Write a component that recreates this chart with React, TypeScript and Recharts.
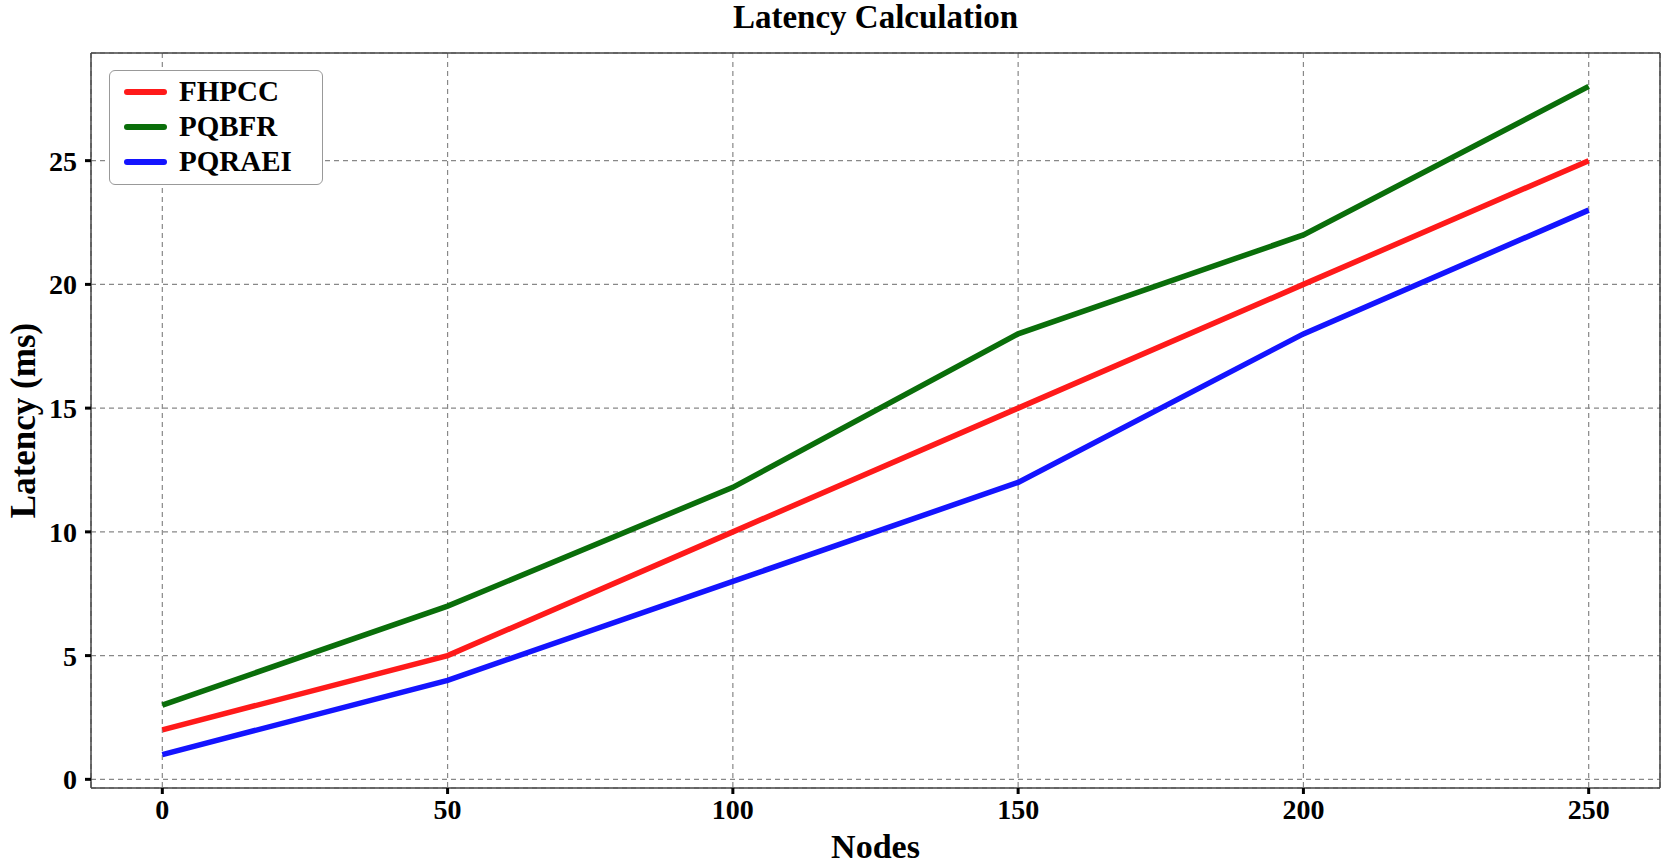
import { CartesianGrid, Line, LineChart, ReferenceLine, XAxis, YAxis } from "recharts";

// node counts on the x axis
const nodes = [0, 50, 100, 150, 200, 250];

// latency in ms for each protocol
const fhpcc = [2, 5, 10, 15, 20, 25];
const pqbfr = [3, 7, 11.8, 18, 22, 28];
const pqraei = [1, 4, 8, 12, 18, 23];

const xTicks = [0, 50, 100, 150, 200, 250];
const yTicks = [0, 5, 10, 15, 20, 25];

const xDomain: [number, number] = [-12.5, 262.5];
const yDomain: [number, number] = [-0.35, 29.35];

const series = [
  { key: "FHPCC", color: "#ff1a1a" },
  { key: "PQBFR", color: "#0a6e0a" },
  { key: "PQRAEI", color: "#1414ff" },
];

const data = nodes.map((n, i) => ({
  nodes: n,
  FHPCC: fhpcc[i],
  PQBFR: pqbfr[i],
  PQRAEI: pqraei[i],
}));

const font = "'Liberation Serif', 'Times New Roman', serif";
const tickStyle = { fontFamily: font, fontWeight: 700, fontSize: 28, fill: "#000" };

function LegendBox() {
  return (
    <div
      style={{
        position: "absolute",
        left: 109,
        top: 70,
        border: "1.5px solid #999",
        borderRadius: 6,
        background: "#fff",
        padding: "3px 30px 5px 14px",
        fontFamily: font,
        fontWeight: 700,
        fontSize: 29,
      }}
    >
      {series.map((s) => (
        <div key={s.key} style={{ display: "flex", alignItems: "center", height: 35 }}>
          <span
            style={{
              display: "inline-block",
              width: 43,
              height: 6,
              borderRadius: 3,
              background: s.color,
              marginRight: 12,
            }}
          />
          {s.key}
        </div>
      ))}
    </div>
  );
}

export default function App() {
  return (
    <div style={{ position: "absolute", left: 0, top: 0, width: 1665, height: 865, background: "#fff" }}>
      <div
        style={{
          position: "absolute",
          left: 91,
          width: 1569,
          top: 0,
          textAlign: "center",
          fontFamily: font,
          fontWeight: 700,
          fontSize: 33,
          lineHeight: "34px",
        }}
      >
        Latency Calculation
      </div>
      <LineChart
        width={1665}
        height={865}
        data={data}
        margin={{ top: 53, right: 5, bottom: 37, left: 31 }}
      >
        <CartesianGrid stroke="#888" strokeDasharray="5 4" strokeWidth={1.2} />
        <XAxis
          dataKey="nodes"
          type="number"
          domain={xDomain}
          ticks={xTicks}
          height={40}
          stroke="#444"
          strokeWidth={1.5}
          tick={tickStyle}
          tickSize={6}
          tickMargin={5}
          tickLine={{ stroke: "#000", strokeWidth: 3 }}
          label={{
            value: "Nodes",
            position: "insideBottom",
            offset: -30,
            style: { fontFamily: font, fontWeight: 700, fontSize: 34, fill: "#000" },
          }}
        />
        <YAxis
          type="number"
          domain={yDomain}
          ticks={yTicks}
          width={60}
          stroke="#444"
          strokeWidth={1.5}
          tick={tickStyle}
          tickSize={6}
          tickMargin={8}
          tickLine={{ stroke: "#000", strokeWidth: 3 }}
          label={{
            value: "Latency (ms)",
            angle: -90,
            position: "insideLeft",
            offset: -8,
            style: { fontFamily: font, fontWeight: 700, fontSize: 35, fill: "#000", textAnchor: "middle" },
          }}
        />
        {/* frame on the top and right edges */}
        <ReferenceLine y={yDomain[1]} stroke="#444" strokeWidth={1.5} />
        <ReferenceLine x={xDomain[1]} stroke="#444" strokeWidth={1.5} />
        {series.map((s) => (
          <Line
            key={s.key}
            dataKey={s.key}
            type="linear"
            stroke={s.color}
            strokeWidth={5.5}
            dot={false}
            isAnimationActive={false}
          />
        ))}
      </LineChart>
      <LegendBox />
    </div>
  );
}
